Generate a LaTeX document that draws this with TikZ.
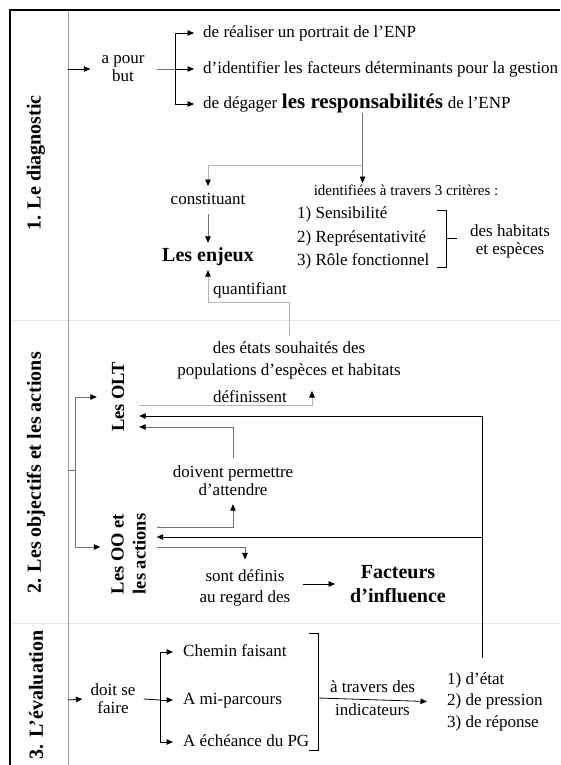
\documentclass[tikz,border=0pt]{standalone}
\usepackage{fontspec}
\setmainfont{Liberation Serif}
\usetikzlibrary{arrows.meta}
\definecolor{lg}{HTML}{B4B4B4}
\definecolor{dg}{HTML}{707070}
\definecolor{sepc}{HTML}{E6E6E6}
\definecolor{divc}{HTML}{A0A0A0}
\begin{document}
\begin{tikzpicture}[x=1pt,y=-1pt,
  tip/.style={-{Triangle[length=6.5pt,width=5.5pt,color=black]}},
  ln/.style={line width=0.8pt},
  lbl/.style={font=\fontsize{17}{18}\selectfont,inner sep=0pt,text height=12pt,text depth=3.5pt},
  mlbl/.style={font=\fontsize{17}{#1}\selectfont,inner sep=0pt,align=center},
  bbig/.style={font=\bfseries\fontsize{20}{24}\selectfont,inner sep=0pt},
  bolt/.style={font=\bfseries\fontsize{18.5}{22}\selectfont,inner sep=0pt,rotate=90},
  sec/.style={font=\bfseries\fontsize{20}{22}\selectfont,inner sep=0pt,rotate=90}]
\useasboundingbox (0,0) rectangle (560,765);
\fill[white] (0,0) rectangle (560,765);
% frame and grid
\draw[sepc,line width=0.8pt] (11,320) -- (560,320) (11,623) -- (560,623);
\draw[divc,line width=0.8pt] (68,11) -- (68,765);
\draw[line width=2pt] (560,10) -- (10,10) -- (10,765);
% section labels
\node[sec] (s1) at (36,163) {1. Le diagnostic};
\node[sec] (s2) at (36,473) {2. Les objectifs et les actions};
\node[sec] (s3) at (36,695) {3. L’évaluation};
% ---- section 1
\node[mlbl=18] (but) at (123,69) {a pour\\but};
\node[lbl,anchor=west] (p1) at (203,33) {de réaliser un portrait de l’ENP};
\node[lbl,anchor=west] (p2) at (203,69) {d’identifier les facteurs déterminants pour la gestion};
\node[lbl,anchor=base west] (p3a) at (203,108.25) {de dégager};
\node[bbig,font=\bfseries\fontsize{21}{24}\selectfont,anchor=base west] (resp) at ([xshift=4.25pt]p3a.base east) {les responsabilités};
\node[lbl,anchor=base west] (p3c) at ([xshift=4.25pt]resp.base east) {de l’ENP};
\node[lbl,font=\fontsize{15}{18}\selectfont] (crith) at (406,191) {identifiées à travers 3 critères :};
\node[mlbl=23.5,align=left,anchor=west] (crit) at (297,238) {1) Sensibilité\\2) Représentativité\\3) Rôle fonctionnel};
\node[mlbl=18] (hab) at (510,241) {des habitats\\et espèces};
\node[lbl,inner ysep=6pt] (cons) at (208,200) {constituant};
\node[bbig,anchor=base,inner ysep=4pt,text height=14pt,text depth=5pt] (enj) at (208,261) {Les enjeux};
\node[lbl,anchor=west] (quant) at (213,290) {quantifiant};
% ---- section 2
\node[mlbl=22,inner ysep=5pt] (etats) at (289,360) {des états souhaités des\\populations d’espèces et habitats};
\node[lbl] (def) at (250,398) {définissent};
\node[bolt,minimum height=42pt] (olt) at (118,397) {Les OLT};
\node[bolt,align=center,minimum height=56pt] (oo) at (128.5,554) {Les OO et\\les actions};
\node[mlbl=18,inner ysep=8pt] (doiv) at (233,481) {doivent permettre\\d’attendre};
\node[mlbl=21,inner xsep=12pt,inner ysep=10pt] (sont) at (245,588) {sont définis\\au regard des};
\node[bbig,align=center,inner xsep=15pt] (fact) at (398,584) {Facteurs\\d’influence};
% ---- section 3
\node[mlbl=18,inner xsep=8pt] (doit) at (113,699) {doit se\\faire};
\node[lbl,anchor=west] (e1) at (183,652) {Chemin faisant};
\node[lbl,anchor=west] (e2) at (183,700) {A mi-parcours};
\node[lbl,anchor=west] (e3) at (183,742) {A échéance du PG};
\node[mlbl=21.5,align=left,anchor=west,inner xsep=20pt] (ind) at (427,701.5) {1) d’état\\2) de pression\\3) de réponse};
% ---- coordinates
\coordinate (s1in) at (68,69);
\coordinate (j1) at (175,69);
\coordinate (j2) at (resp.south |- 0,165);
\coordinate (defup) at (312,391);
\coordinate (rt) at (482,416);
\coordinate (rb) at (482,658);
\coordinate (s2in) at (68,470);
\coordinate (j4) at (75,470);
\coordinate (s3in) at (68,700);
\coordinate (j3) at (160,700);
\coordinate (br) at (318,698);
% ---- connectors section 1
\draw[ln,tip,shorten >=11pt] (s1in) -- (but.west);
\draw[ln,dg,shorten <=12pt] (but.east) -- (j1);
\draw[ln,tip,shorten >=9pt] (j1) |- (p1.west);
\draw[ln,tip,shorten >=9pt] (j1) -- (p2.west);
\draw[ln,tip,shorten >=9pt] (j1) |- (p3a.west);
\draw[ln,dg,tip] (resp.south) -- (resp.south |- crith.north);
\draw[ln,lg,tip] (j2) -| (cons.north);
\draw[ln,dg,tip] (cons.south) -- (enj.north);
\draw[ln,lg,tip] (etats.north) |- (enj.south |- 0,302) -- (enj.south);
\draw[ln] (437,210) -- (446,210) -- (446,267) -- (437,267) (446,238) -- (457,238);
% ---- connectors section 2
\draw[ln,lg,tip] (olt.south |- 0,405) -| (defup);
\draw[ln,tip] (rb) -- (rt) -- (olt.south |- rt);
\draw[ln,dg,tip] (doiv.north) |- (olt.south |- 0,427);
\draw[ln,dg,tip] (oo.south |- 0,527) -| (doiv.south);
\draw[ln,tip] (rb |- 0,537) -- (oo.south |- 0,537);
\draw[ln,dg,tip] (oo.south |- 0,547) -| (sont.north);
\draw[ln,tip] (sont.east |- fact.west) -- (fact.west);
\draw[ln,dg] (s2in) -- (j4);
\draw[ln,dg,tip] (j4) |- (olt.north);
\draw[ln,dg,tip] (j4) |- (oo.north |- 0,547);
% ---- connectors section 3
\draw[ln,tip] (s3in) -- (doit.west);
\draw[ln] (doit.east) -- (j3);
\draw[ln,tip,shorten >=10pt] (j3) |- (e1.west);
\draw[ln,tip,shorten >=10pt] (j3) -- (e2.west);
\draw[ln,tip,shorten >=10pt] (j3) |- (e3.west);
\draw[ln] (309,633) -- (318,633) -- (318,750) -- (309,750);
\draw[ln,tip] (br) -- node[lbl,above=3pt] (atd) {à travers des} node[lbl,below=3pt] (indl) {indicateurs} (ind.west);
\end{tikzpicture}
\end{document}
